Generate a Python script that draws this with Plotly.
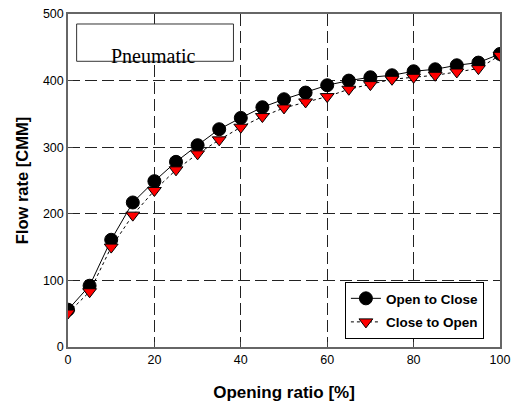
import plotly.graph_objects as go

opening = [0, 5, 10, 15, 20, 25, 30, 35, 40, 45, 50, 55, 60, 65, 70, 75, 80, 85, 90, 95, 100]
open_to_close = [56, 92, 161, 217, 249, 278, 303, 327, 344, 360, 372, 382, 393, 400, 405, 408, 414, 417, 423, 427, 440]
close_to_open = [51, 83, 150, 198, 235, 266, 290, 311, 330, 346, 359, 368, 376, 387, 394, 402, 405, 408, 413, 418, 438]

fig = go.Figure()
fig.add_trace(go.Scatter(
    x=opening, y=open_to_close, mode="lines+markers", name="<b>Open to Close</b>",
    legendgroup="a",
    line=dict(color="black", width=1),
    marker=dict(symbol="circle", size=13, color="black", line=dict(color="black", width=1)),
))
fig.add_trace(go.Scatter(
    x=opening, y=close_to_open, mode="lines+markers", name="<b>Close to Open</b>",
    legendgroup="b",
    line=dict(color="black", width=1, dash="dot"),
    marker=dict(symbol="triangle-down", size=12, color="red", line=dict(color="black", width=1)),
))

axis_common = dict(
    showline=True, linecolor="#666", linewidth=1.5, mirror=True,
    showgrid=True, gridcolor="#222", gridwidth=1, griddash="12px,5px",
    ticks="inside", ticklen=5, tickcolor="#444",
    zeroline=False, automargin=False,
    tickfont=dict(family="Liberation Sans, Arial", size=12.5, color="black"),
)

fig.update_xaxes(range=[0, 100], dtick=20, **axis_common,
                 title=dict(text="<b>Opening ratio [%]</b>",
                            font=dict(family="Liberation Sans, Arial", size=17, color="black"),
                            standoff=20))
fig.update_yaxes(range=[0, 500], dtick=100, **axis_common,
                 title=dict(text="<b>Flow rate [CMM]</b>",
                            font=dict(family="Liberation Sans, Arial", size=16.5, color="black"),
                            standoff=10))

fig.add_shape(type="rect", xref="x", yref="y", x0=2.0, x1=38.3, y0=429, y1=485,
              line=dict(color="#333", width=1), fillcolor="white", layer="above")
fig.add_annotation(x=19.9, y=437, xref="x", yref="y", text="Pneumatic", showarrow=False,
                   font=dict(family="Liberation Serif, Times New Roman", size=20, color="black"))

fig.update_layout(
    width=514, height=403,
    margin=dict(l=68, r=14, t=14, b=56),
    paper_bgcolor="white", plot_bgcolor="white",
    showlegend=True,
    legend=dict(x=0.641, y=0.195, xanchor="left", yanchor="top",
                bgcolor="white", bordercolor="black", borderwidth=1,
                font=dict(family="Liberation Sans, Arial", size=13.5, color="black"),
                tracegroupgap=3),
)

fig.write_html("out.html", config={"displayModeBar": False},
               post_script="document.body.style.margin='0';document.body.style.overflow='hidden';")
